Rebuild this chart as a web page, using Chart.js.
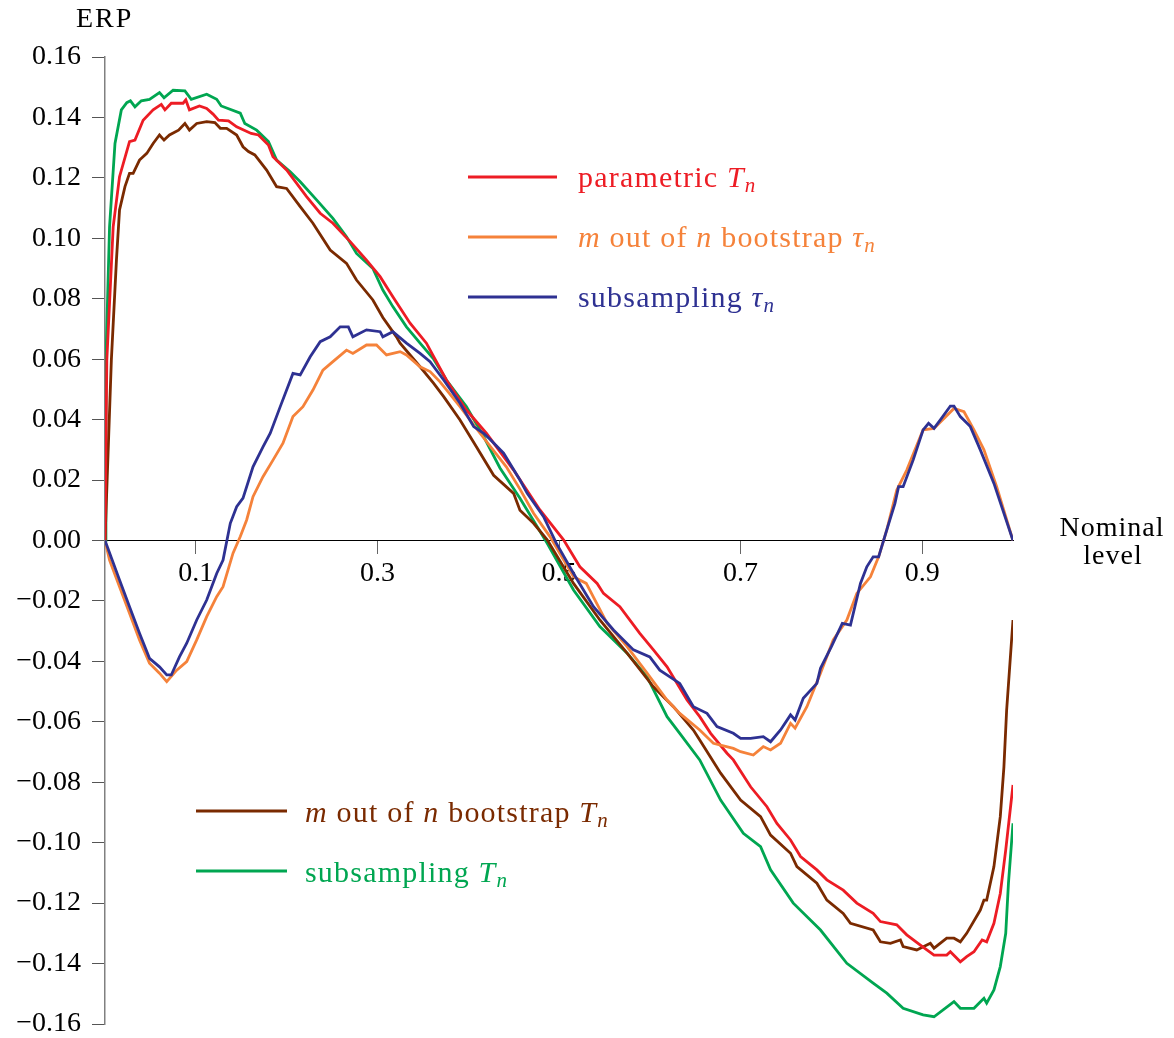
<!DOCTYPE html>
<html><head><meta charset="utf-8">
<script src="https://cdn.jsdelivr.net/npm/chart.js@4.4.0/dist/chart.umd.min.js"></script>
<style>html,body{margin:0;padding:0;background:#fff;}#wrap{width:1174px;height:1038px;}</style>
</head><body><div id="wrap"><canvas id="c" width="1174" height="1038"></canvas></div>
<script>
// ---- data (x = nominal level, y = ERP) ----
const xTickValues = [0.1, 0.3, 0.5, 0.7, 0.9];
const yTickValues = [-0.16,-0.14,-0.12,-0.10,-0.08,-0.06,-0.04,-0.02,0,0.02,0.04,0.06,0.08,0.10,0.12,0.14,0.16];

const parametricT = [[0,0],[0.002,0.0597],[0.009,0.1038],[0.016,0.1204],[0.027,0.132],[0.033,0.1325],[0.042,0.1391],[0.053,0.1425],[0.062,0.1443],[0.066,0.1425],[0.073,0.1447],[0.086,0.1447],[0.089,0.1458],[0.093,0.1425],[0.104,0.1438],[0.112,0.143],[0.119,0.1411],[0.125,0.1391],[0.136,0.1389],[0.145,0.1369],[0.161,0.1347],[0.169,0.1342],[0.180,0.1309],[0.185,0.127],[0.200,0.1226],[0.222,0.1138],[0.237,0.1083],[0.251,0.105],[0.270,0.0989],[0.288,0.0928],[0.303,0.0873],[0.317,0.0807],[0.336,0.0719],[0.354,0.0653],[0.362,0.0608],[0.376,0.0531],[0.398,0.0432],[0.420,0.0355],[0.450,0.0233],[0.479,0.0101],[0.505,0.0002],[0.523,-0.0087],[0.542,-0.0142],[0.549,-0.0175],[0.567,-0.0219],[0.589,-0.0307],[0.604,-0.0362],[0.619,-0.0418],[0.641,-0.0528],[0.655,-0.0583],[0.667,-0.0638],[0.685,-0.0704],[0.692,-0.0726],[0.711,-0.0815],[0.729,-0.0881],[0.740,-0.0936],[0.755,-0.0991],[0.766,-0.1046],[0.784,-0.109],[0.795,-0.1123],[0.813,-0.1157],[0.828,-0.12],[0.846,-0.1234],[0.854,-0.1261],[0.872,-0.1272],[0.883,-0.1305],[0.898,-0.1339],[0.913,-0.1372],[0.927,-0.1372],[0.931,-0.1361],[0.942,-0.1394],[0.949,-0.1377],[0.957,-0.1361],[0.966,-0.1322],[0.971,-0.1328],[0.979,-0.1267],[0.986,-0.1168],[0.992,-0.1024],[1.0,-0.0809]];

const bootstrapTau = [[0,0],[0.005,-0.0065],[0.016,-0.0153],[0.027,-0.0241],[0.038,-0.0329],[0.049,-0.0406],[0.060,-0.0439],[0.068,-0.0467],[0.079,-0.0429],[0.090,-0.0401],[0.101,-0.0329],[0.112,-0.0252],[0.123,-0.0186],[0.130,-0.0153],[0.141,-0.0042],[0.149,0.0013],[0.156,0.0068],[0.163,0.0145],[0.174,0.0211],[0.185,0.0266],[0.196,0.0322],[0.207,0.041],[0.218,0.0443],[0.229,0.0498],[0.240,0.0564],[0.251,0.0592],[0.266,0.063],[0.273,0.0619],[0.288,0.0647],[0.299,0.0647],[0.310,0.0614],[0.325,0.0625],[0.332,0.0614],[0.347,0.0575],[0.358,0.0559],[0.369,0.0525],[0.391,0.0443],[0.413,0.0355],[0.442,0.0244],[0.457,0.017],[0.472,0.009],[0.490,0.0013],[0.516,-0.012],[0.530,-0.0142],[0.553,-0.0274],[0.575,-0.0351],[0.597,-0.0439],[0.619,-0.0528],[0.633,-0.0572],[0.655,-0.0627],[0.670,-0.0671],[0.692,-0.0688],[0.700,-0.0699],[0.714,-0.071],[0.725,-0.0682],[0.733,-0.0693],[0.744,-0.0671],[0.755,-0.0605],[0.760,-0.0621],[0.773,-0.055],[0.788,-0.0439],[0.802,-0.0329],[0.817,-0.0263],[0.828,-0.0175],[0.843,-0.012],[0.852,-0.0054],[0.861,0.0035],[0.872,0.0167],[0.883,0.0233],[0.901,0.0366],[0.913,0.0371],[0.935,0.0437],[0.946,0.0426],[0.957,0.0366],[0.968,0.03],[0.982,0.0178],[1.0,0]];

const subsamplingTau = [[0,0],[0.016,-0.0131],[0.027,-0.0219],[0.038,-0.0307],[0.049,-0.039],[0.060,-0.0418],[0.068,-0.0445],[0.073,-0.0445],[0.082,-0.0385],[0.090,-0.034],[0.101,-0.0263],[0.112,-0.0197],[0.123,-0.0109],[0.130,-0.0065],[0.138,0.0057],[0.145,0.0112],[0.152,0.014],[0.163,0.0244],[0.174,0.031],[0.182,0.0355],[0.193,0.0443],[0.207,0.0553],[0.215,0.0548],[0.226,0.0608],[0.237,0.0658],[0.248,0.0674],[0.259,0.0707],[0.268,0.0707],[0.273,0.0674],[0.288,0.0697],[0.303,0.0691],[0.306,0.0674],[0.317,0.0691],[0.332,0.0653],[0.347,0.0619],[0.358,0.0592],[0.373,0.0531],[0.391,0.0454],[0.406,0.0377],[0.417,0.0355],[0.424,0.0335],[0.439,0.0289],[0.457,0.020],[0.465,0.0156],[0.483,0.0079],[0.497,-0.0009],[0.516,-0.0109],[0.538,-0.0219],[0.560,-0.0296],[0.582,-0.0362],[0.600,-0.0385],[0.611,-0.0429],[0.633,-0.0473],[0.648,-0.055],[0.663,-0.0572],[0.674,-0.0616],[0.692,-0.0638],[0.700,-0.0655],[0.711,-0.0655],[0.725,-0.0649],[0.733,-0.0666],[0.744,-0.0627],[0.755,-0.0577],[0.760,-0.0594],[0.769,-0.0522],[0.784,-0.0473],[0.788,-0.0423],[0.800,-0.0351],[0.812,-0.0274],[0.821,-0.028],[0.832,-0.0142],[0.839,-0.0087],[0.846,-0.0054],[0.852,-0.0054],[0.861,0.0035],[0.870,0.0123],[0.874,0.0178],[0.879,0.0178],[0.890,0.0266],[0.901,0.0366],[0.907,0.0388],[0.913,0.0371],[0.920,0.0399],[0.931,0.0445],[0.935,0.0445],[0.942,0.041],[0.953,0.0377],[0.964,0.03],[0.979,0.0189],[1.0,0]];

const bootstrapT = [[0,0],[0.007,0.0597],[0.0126,0.0928],[0.016,0.1094],[0.022,0.1171],[0.027,0.1215],[0.031,0.1215],[0.038,0.1259],[0.046,0.1281],[0.053,0.1314],[0.060,0.1342],[0.065,0.1325],[0.071,0.1342],[0.081,0.1358],[0.088,0.138],[0.093,0.1358],[0.101,0.138],[0.112,0.1386],[0.121,0.1383],[0.127,0.1364],[0.134,0.1364],[0.145,0.1342],[0.152,0.1303],[0.158,0.1287],[0.165,0.1276],[0.178,0.1226],[0.189,0.1171],[0.200,0.1165],[0.215,0.1105],[0.229,0.105],[0.248,0.0961],[0.266,0.0917],[0.277,0.0862],[0.295,0.0796],[0.306,0.0738],[0.321,0.0674],[0.325,0.0653],[0.347,0.0575],[0.362,0.052],[0.373,0.0476],[0.391,0.0399],[0.409,0.031],[0.428,0.0216],[0.450,0.0156],[0.457,0.010],[0.472,0.0057],[0.487,0.0002],[0.516,-0.0142],[0.545,-0.0263],[0.575,-0.0373],[0.604,-0.0484],[0.626,-0.055],[0.648,-0.0627],[0.655,-0.066],[0.678,-0.077],[0.700,-0.0859],[0.722,-0.0914],[0.733,-0.0975],[0.755,-0.1035],[0.762,-0.1079],[0.784,-0.1134],[0.795,-0.119],[0.813,-0.1234],[0.821,-0.1267],[0.846,-0.1289],[0.854,-0.1328],[0.865,-0.1333],[0.876,-0.1322],[0.879,-0.1344],[0.894,-0.1355],[0.909,-0.1333],[0.913,-0.1349],[0.927,-0.1316],[0.935,-0.1316],[0.942,-0.1328],[0.949,-0.130],[0.964,-0.1223],[0.968,-0.119],[0.971,-0.119],[0.979,-0.1079],[0.986,-0.0914],[0.990,-0.0749],[0.993,-0.0561],[1.0,-0.0263]];

const subsamplingT = [[0,0],[0.001,0.0597],[0.005,0.1038],[0.011,0.1314],[0.018,0.1425],[0.024,0.1449],[0.028,0.1455],[0.033,0.1435],[0.040,0.1455],[0.049,0.146],[0.060,0.1482],[0.065,0.1465],[0.075,0.149],[0.088,0.1488],[0.095,0.146],[0.112,0.1477],[0.123,0.146],[0.128,0.1438],[0.149,0.1414],[0.154,0.138],[0.167,0.1358],[0.180,0.132],[0.189,0.1259],[0.204,0.122],[0.215,0.1187],[0.233,0.1127],[0.251,0.1066],[0.266,0.1005],[0.277,0.095],[0.295,0.090],[0.306,0.0829],[0.317,0.0774],[0.332,0.0707],[0.347,0.0653],[0.362,0.060],[0.376,0.0531],[0.398,0.0443],[0.417,0.0344],[0.435,0.024],[0.457,0.014],[0.487,-0.0009],[0.516,-0.0164],[0.545,-0.0285],[0.575,-0.0373],[0.597,-0.0451],[0.619,-0.0583],[0.633,-0.0638],[0.655,-0.0726],[0.678,-0.0859],[0.703,-0.0969],[0.722,-0.1013],[0.733,-0.109],[0.758,-0.120],[0.788,-0.1289],[0.817,-0.1399],[0.846,-0.1465],[0.861,-0.1498],[0.879,-0.1548],[0.901,-0.157],[0.913,-0.1576],[0.935,-0.1526],[0.942,-0.1548],[0.957,-0.1548],[0.968,-0.1515],[0.971,-0.1531],[0.979,-0.1487],[0.986,-0.141],[0.992,-0.130],[0.995,-0.1134],[1.0,-0.0936]];

// ---- legend / title texts: [text, style] with 0 = upright, 1 = italic, 2 = italic subscript ----
const legendTextParametric = [['parametric ',0],['T',1],['n',2]];
const legendTextBootTau = [['m',1],[' out of ',0],['n',1],[' bootstrap ',0],['\u03C4',1],['n',2]];
const legendTextSubTau = [['subsampling ',0],['\u03C4',1],['n',2]];
const legendTextBootT = [['m',1],[' out of ',0],['n',1],[' bootstrap ',0],['T',1],['n',2]];
const legendTextSubT = [['subsampling ',0],['T',1],['n',2]];
const yTitle = 'ERP';
const xTitleLines = ['Nominal', 'level'];

// ---- styles ----
const C = {red:'#ED1C24', orange:'#F5823A', blue:'#2E3192', brown:'#7A2A00', green:'#00A651'};
const FONT = '"Liberation Serif", "Times New Roman", serif';

function fmtY(v){ const r = Math.round(v*100)/100; return (r < 0 ? '\u2212' : '') + Math.abs(r).toFixed(2); }
const toXY = arr => arr.map(([x,y]) => ({x, y}));

function drawRich(ctx, parts, x, y, color){
  ctx.save();
  ctx.fillStyle = color; ctx.textAlign = 'left'; ctx.textBaseline = 'alphabetic';
  try { ctx.letterSpacing = '1.2px'; } catch(e) {}
  for (const [t, s] of parts){
    const size = s === 2 ? 21 : 30;
    ctx.font = (s ? 'italic ' : '') + size + 'px ' + FONT;
    ctx.fillText(t, x, y + (s === 2 ? 5 : 0));
    x += ctx.measureText(t).width;
  }
  ctx.restore();
}

const overlay = {
  id: 'overlay',
  afterDraw(chart){
    const ctx = chart.ctx;
    const legends = [
      {parts: legendTextParametric, color: C.red,    x1: 468, x2: 557, ly: 177, tx: 578, by: 187},
      {parts: legendTextBootTau,    color: C.orange, x1: 468, x2: 557, ly: 237, tx: 578, by: 247},
      {parts: legendTextSubTau,     color: C.blue,   x1: 468, x2: 557, ly: 297, tx: 578, by: 307},
      {parts: legendTextBootT,      color: C.brown,  x1: 196, x2: 287, ly: 811, tx: 305, by: 822},
      {parts: legendTextSubT,       color: C.green,  x1: 196, x2: 287, ly: 871, tx: 305, by: 882}
    ];
    ctx.save();
    for (const L of legends){
      ctx.strokeStyle = L.color; ctx.lineWidth = 3; ctx.lineCap = 'butt';
      ctx.beginPath(); ctx.moveTo(L.x1, L.ly); ctx.lineTo(L.x2, L.ly); ctx.stroke();
      drawRich(ctx, L.parts, L.tx, L.by, L.color);
    }
    ctx.fillStyle = '#000'; ctx.textBaseline = 'alphabetic';
    try { ctx.letterSpacing = '2px'; } catch(e) {}
    ctx.font = '28px ' + FONT;
    ctx.textAlign = 'left';
    ctx.fillText(yTitle, 76, 27);
    try { ctx.letterSpacing = '1px'; } catch(e) {}
    ctx.textAlign = 'center';
    ctx.fillText(xTitleLines[0], 1112, 536);
    ctx.fillText(xTitleLines[1], 1113, 564);
    ctx.restore();
  }
};

const mk = (label, arr, color) => ({label, data: toXY(arr), borderColor: color, backgroundColor: color,
  borderWidth: 2.8, pointRadius: 0, tension: 0, fill: false});

new Chart(document.getElementById('c'), {
  type: 'line',
  data: { datasets: [
    mk('subsampling \u03C4n', subsamplingTau, C.blue),
    mk('m out of n bootstrap \u03C4n', bootstrapTau, C.orange),
    mk('parametric Tn', parametricT, C.red),
    mk('m out of n bootstrap Tn', bootstrapT, C.brown),
    mk('subsampling Tn', subsamplingT, C.green)
  ]},
  options: {
    responsive: false, animation: false, devicePixelRatio: 1,
    layout: { autoPadding: false, padding: {left: 0, right: 161, top: 57, bottom: 14} },
    plugins: { legend: {display: false}, tooltip: {enabled: false} },
    scales: {
      x: { type: 'linear', min: 0, max: 1, position: {y: 0},
        afterBuildTicks: s => { s.ticks = xTickValues.map(v => ({value: v})); },
        afterFit: s => { s.paddingLeft = 0; s.paddingRight = 0; s.paddingTop = 0; s.paddingBottom = 0; },
        ticks: { font: {family: FONT, size: 28}, color: '#000', padding: 3, maxRotation: 0, autoSkip: false,
                 callback: v => String(v) },
        grid: { drawOnChartArea: false, drawTicks: true, tickLength: 13, tickColor: '#666', tickWidth: 1 },
        border: { display: true, color: '#000', width: 1 } },
      y: { type: 'linear', min: -0.16, max: 0.16, position: 'left',
        afterBuildTicks: s => { s.ticks = yTickValues.map(v => ({value: v})); },
        afterFit: s => { s.width = 105; s.paddingTop = 0; s.paddingBottom = 0; s.paddingLeft = 0; s.paddingRight = 0; },
        ticks: { font: {family: FONT, size: 28}, color: '#000', padding: 11, callback: v => fmtY(v) },
        grid: { drawOnChartArea: false, drawTicks: true, tickLength: 13, tickColor: '#555', tickWidth: 1 },
        border: { display: true, color: '#808080', width: 1.5 } }
    }
  },
  plugins: [overlay]
});
</script></body></html>
